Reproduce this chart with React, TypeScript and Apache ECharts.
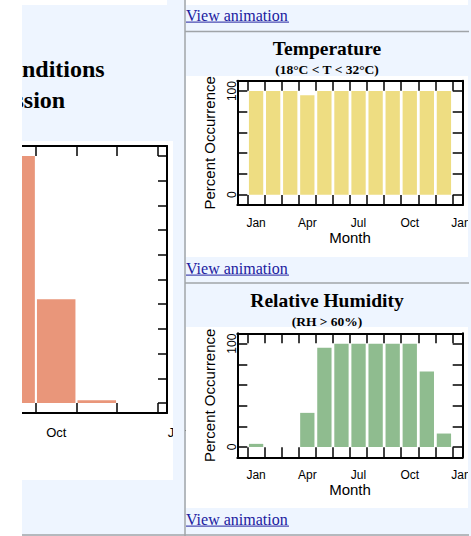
import React, { useEffect, useRef } from "react";
import * as echarts from "echarts";

// ---------- data ----------
const months = [1, 2, 3, 4, 5, 6, 7, 8, 9, 10, 11, 12];
const monthBoundaries = [0.5, 1.5, 2.5, 3.5, 4.5, 5.5, 6.5, 7.5, 8.5, 9.5, 10.5, 11.5, 12.5];
const monthLabelPositions = [1, 4, 7, 10, 13];
const monthLabels = ["Jan", "Apr", "Jul", "Oct", "Jan"];
// only the labels of the left chart that lie inside the visible page area
const leftChartLabelPositions = [10, 13];

const temperatureValues = [100, 100, 100, 96, 100, 100, 100, 100, 100, 100, 100, 100];
const humidityValues = [3, 0, 0, 33, 96, 100, 100, 100, 100, 100, 73, 13];

// visible part of the combined (left) chart
const combinedMonths = [9, 10, 11, 12];
const combinedValues = [100, 42, 1.1, 0];

const percentTicksSmall = [0, 20, 40, 60, 80, 100];
const percentLabelsSmall = [0, 100];
const percentTicksLarge = [0, 10, 20, 30, 40, 50, 60, 70, 80, 90, 100];

// ---------- styles ----------
const FONT_SANS = "'Liberation Sans', Arial, Helvetica, sans-serif";
const FONT_SERIF = "'Liberation Serif', 'Times New Roman', Times, serif";
const BLUE_BG = "#EEF5FF";
const LINK = "#2020a0";
const BORDER = "#a0a4a8";

const axisLineStyle = { color: "#000", width: 2 };
const tickStyle = { color: "#000", width: 1.5 };

function monthFormatter(v: number) {
  const i = monthLabelPositions.indexOf(v);
  return i >= 0 ? monthLabels[i] : "";
}

export default function App() {
  const ref = useRef<HTMLDivElement>(null);

  useEffect(() => {
    document.body.style.margin = "0";
    const chart = echarts.init(ref.current!, null, { renderer: "svg" });

    const smallGrids = [
      { left: 237.3, top: 80.7, width: 225.4, height: 124.3 },
      { left: 237.3, top: 333.3, width: 225.4, height: 124 },
    ];
    const grids: any[] = [
      ...smallGrids.map((g) => ({ ...g, show: false, containLabel: false, outerBoundsMode: "none" })),
      { left: -338.7, top: 146, width: 505.7, height: 267, show: false, containLabel: false, outerBoundsMode: "none" },
      { left: -338.7, top: 146, width: 526.2, height: 267, show: false, containLabel: false, outerBoundsMode: "none" },
    ];

    const xAxes: any[] = [];
    const yAxes: any[] = [];

    [0, 1].forEach((g) => {
      xAxes.push({
        gridIndex: g, type: "value", position: "bottom", min: -0.1, max: 13.1,
        axisLine: { show: true, onZero: false, lineStyle: axisLineStyle },
        axisTick: { show: true, inside: true, length: 10, customValues: monthBoundaries, lineStyle: tickStyle },
        axisLabel: {
          show: true, customValues: monthLabelPositions, formatter: monthFormatter,
          margin: 12, fontSize: 12, color: "#000", fontFamily: FONT_SANS,
        },
        splitLine: { show: false },
        name: "Month", nameLocation: "middle", nameGap: 25,
        nameTextStyle: { fontSize: 15, color: "#000", fontFamily: FONT_SANS },
      });
      xAxes.push({
        gridIndex: g, type: "value", position: "top", min: -0.1, max: 13.1,
        axisLine: { show: true, onZero: false, lineStyle: axisLineStyle },
        axisTick: { show: true, inside: true, length: 10, customValues: monthBoundaries, lineStyle: tickStyle },
        axisLabel: { show: false },
        splitLine: { show: false },
      });
      yAxes.push({
        gridIndex: g, type: "value", position: "left", min: -10, max: 110,
        axisLine: { show: true, onZero: false, lineStyle: axisLineStyle },
        axisTick: { show: true, inside: true, length: 10, customValues: percentTicksSmall, lineStyle: tickStyle },
        axisLabel: {
          show: true, customValues: percentLabelsSmall, rotate: 90, margin: -1,
          fontSize: 12, color: "#000", fontFamily: FONT_SANS,
        },
        splitLine: { show: false },
        name: "Percent Occurrence", nameLocation: "middle", nameRotate: 90, nameGap: 20,
        nameTextStyle: { fontSize: 15, color: "#000", fontFamily: FONT_SANS },
      });
      yAxes.push({
        gridIndex: g, type: "value", position: "right", min: -10, max: 110,
        axisLine: { show: true, onZero: false, lineStyle: axisLineStyle },
        axisTick: { show: true, inside: true, length: 10, customValues: percentTicksSmall, lineStyle: tickStyle },
        axisLabel: { show: false },
        splitLine: { show: false },
      });
    });

    // left (large) chart
    xAxes.push({
      gridIndex: 2, type: "value", position: "bottom", min: 0.27, max: 12.73,
      axisLine: { show: true, onZero: false, lineStyle: axisLineStyle },
      axisTick: { show: true, inside: true, length: 10, customValues: monthBoundaries, lineStyle: tickStyle },
      axisLabel: { show: false },
      splitLine: { show: false },
    });
    xAxes.push({
      gridIndex: 2, type: "value", position: "top", min: 0.27, max: 12.73,
      axisLine: { show: true, onZero: false, lineStyle: axisLineStyle },
      axisTick: { show: true, inside: true, length: 10, customValues: monthBoundaries, lineStyle: tickStyle },
      axisLabel: { show: false },
      splitLine: { show: false },
    });
    yAxes.push({
      gridIndex: 2, type: "value", position: "left", min: -4.05, max: 104.05,
      axisLine: { show: true, onZero: false, lineStyle: axisLineStyle },
      axisTick: { show: true, inside: true, length: 9, customValues: percentTicksLarge, lineStyle: tickStyle },
      axisLabel: { show: false },
      splitLine: { show: false },
    });
    yAxes.push({
      gridIndex: 2, type: "value", position: "right", min: -4.05, max: 104.05,
      axisLine: { show: true, onZero: false, lineStyle: axisLineStyle },
      axisTick: { show: true, inside: true, length: 9, customValues: percentTicksLarge, lineStyle: tickStyle },
      axisLabel: { show: false },
      splitLine: { show: false },
    });
    // label axis of the left chart (same scale, extends past the frame)
    xAxes.push({
      gridIndex: 3, type: "value", position: "bottom", min: 0.27, max: 13.23,
      axisLine: { show: false, onZero: false },
      axisTick: { show: false },
      axisLabel: {
        show: true, customValues: leftChartLabelPositions, formatter: monthFormatter,
        margin: 12.5, fontSize: 13, color: "#000", fontFamily: FONT_SANS,
      },
      splitLine: { show: false },
    });
    yAxes.push({ gridIndex: 3, type: "value", show: false, min: 0, max: 1 });

    const rect = (x: number, y: number, w: number, h: number, fill: string, z: number) => ({
      type: "rect", shape: { x, y, width: w, height: h }, style: { fill }, z, silent: true,
    });
    const line = (x1: number, y1: number, x2: number, y2: number, stroke: string, lw: number, z: number) => ({
      type: "line", shape: { x1, y1, x2, y2 }, style: { stroke, lineWidth: lw }, z, silent: true,
    });
    const text = (t: string, x: number, y: number, size: number, weight: string, fill: string, align: string, z = 5) => ({
      type: "text", x, y, z, silent: true,
      style: {
        text: t, fontSize: size, fontWeight: weight, fontFamily: FONT_SERIF, fill,
        textAlign: align, textVerticalAlign: "middle",
      },
    });

    const linkYs = [15.2, 268.2, 519.2];

    const elements: any[] = [
      rect(0, 0, 471, 536, BLUE_BG, -20),
      rect(0, 0, 167, 5, "#fff", -19),
      rect(186, 0, 282, 5, "#fff", -19),
      rect(22, 141, 151, 339, "#fff", -19),
      rect(186, 76, 282, 181, "#fff", -19),
      rect(186, 327, 282, 181, "#fff", -19),
      // left title (clipped at the left)
      text("nditions", 22, 69.2, 24, "bold", "#000", "left"),
      text("ssion", 14.5, 100.2, 24, "bold", "#000", "left"),
      // right titles
      text("Temperature", 327, 48.3, 19.5, "bold", "#000", "center"),
      text("(18°C < T < 32°C)", 327, 69.5, 13.5, "bold", "#000", "center"),
      text("Relative Humidity", 327, 300.3, 19.5, "bold", "#000", "center"),
      text("(RH > 60%)", 327, 321, 13.5, "bold", "#000", "center"),
      // overlays (clipping)
      rect(0, 0, 22, 536, "#fff", 100),
      rect(173, 141, 12, 339, BLUE_BG, 100),
      rect(186, 420, 6, 30, "#fff", 100),
      rect(468, 76, 3, 181, BLUE_BG, 100),
      rect(468, 327, 3, 181, BLUE_BG, 100),
      // table borders
      line(185, 0, 185, 536, BORDER, 1.5, 101),
      line(185, 31.5, 469, 31.5, BORDER, 1.5, 101),
      line(185, 283, 469, 283, BORDER, 1.5, 101),
      line(22, 535, 469, 535, BORDER, 1.5, 101),
    ];
    linkYs.forEach((y) => {
      elements.push(text("View animation", 186, y, 16, "normal", LINK, "left", 101));
      elements.push(line(186, y + 6.9, 289, y + 6.9, LINK, 1, 101));
    });

    chart.setOption({
      animation: false,
      backgroundColor: "transparent",
      grid: grids,
      xAxis: xAxes,
      yAxis: yAxes,
      series: [
        {
          type: "bar", xAxisIndex: 0, yAxisIndex: 0, barWidth: 14.3,
          itemStyle: { color: "#EEDD82" },
          data: months.map((m, i) => [m, temperatureValues[i]]),
        },
        {
          type: "bar", xAxisIndex: 2, yAxisIndex: 2, barWidth: 14.3,
          itemStyle: { color: "#8FBC8F" },
          data: months.map((m, i) => [m, humidityValues[i]]),
        },
        {
          type: "bar", xAxisIndex: 4, yAxisIndex: 4, barWidth: 38.5,
          itemStyle: { color: "#E9967A" },
          data: combinedMonths.map((m, i) => [m, combinedValues[i]]),
        },
      ],
      graphic: { elements },
    });

    return () => chart.dispose();
  }, []);

  return (
    <div
      ref={ref}
      style={{ position: "absolute", left: 0, top: 0, width: 471, height: 536 }}
    />
  );
}
